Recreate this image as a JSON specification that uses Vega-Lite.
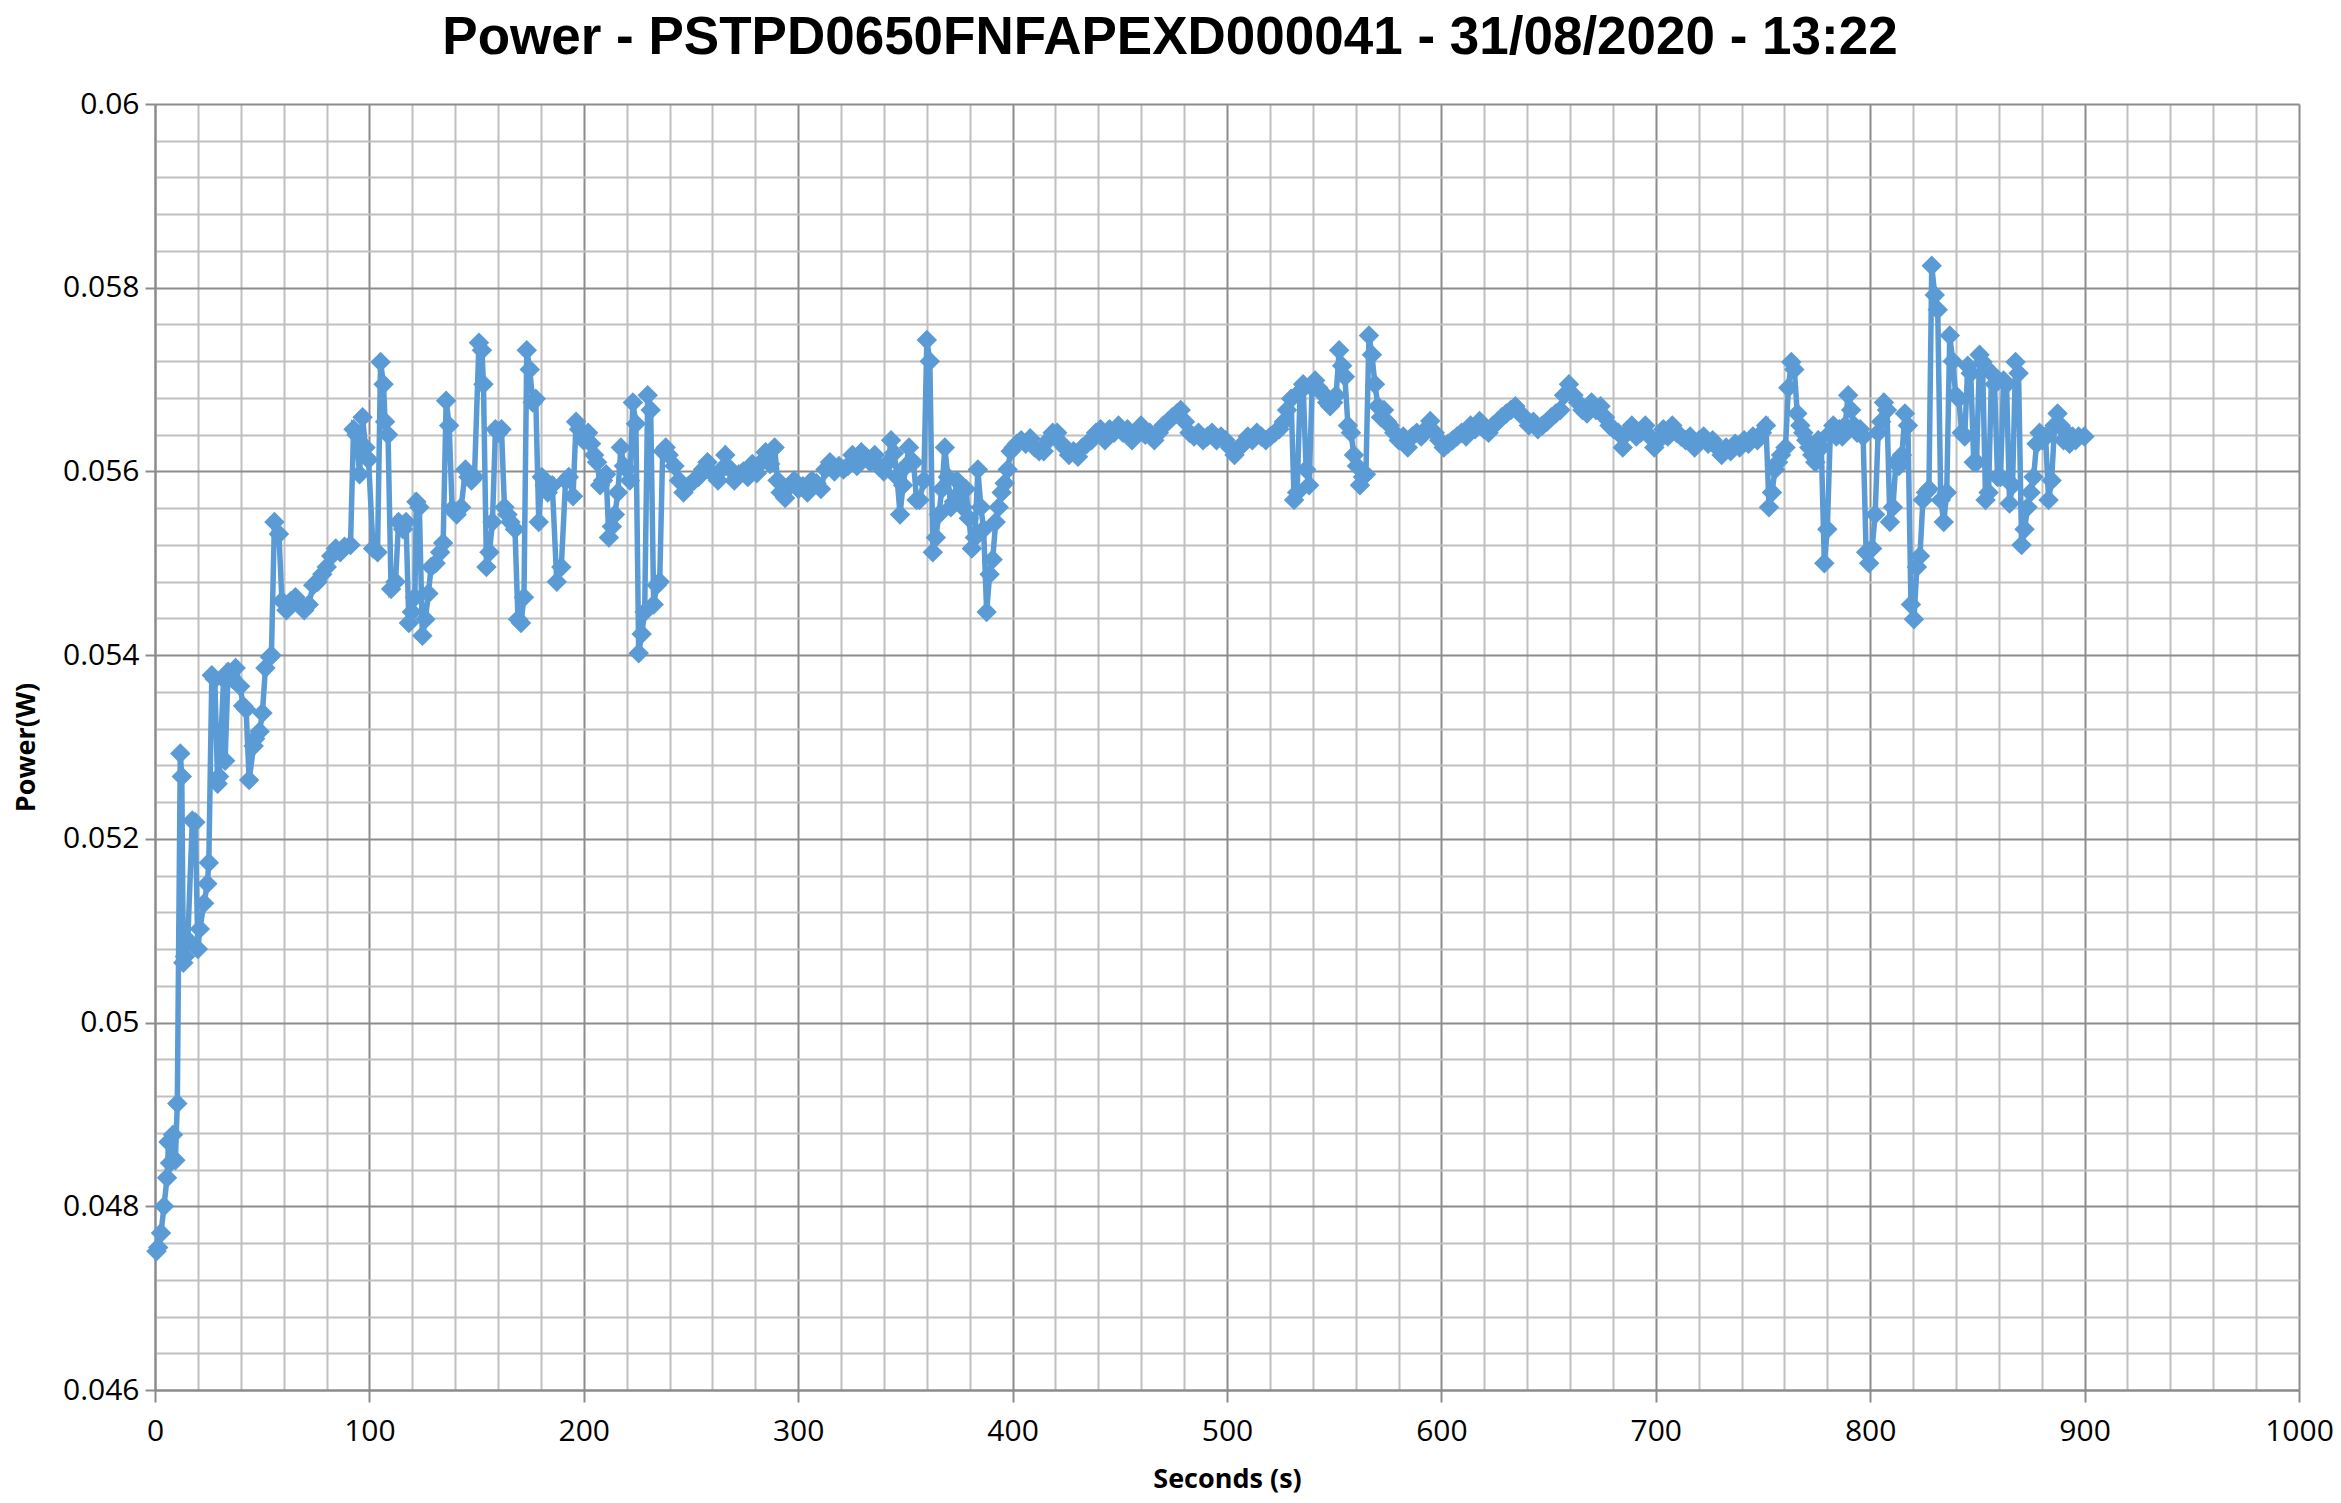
{
  "$schema": "https://vega.github.io/schema/vega-lite/v6.json",
  "width": 2144,
  "height": 1286,
  "autosize": {"type": "none"},
  "padding": {"left": 155, "top": 104, "right": 42, "bottom": 113},
  "background": "white",
  "title": {
    "text": "Power - PSTPD0650FNFAPEXD000041 - 31/08/2020 - 13:22",
    "font": "Liberation Sans",
    "fontSize": 53,
    "fontWeight": "bold",
    "color": "#000000",
    "anchor": "middle",
    "dx": -57,
    "offset": 24
  },
  "config": {
    "view": {"stroke": null},
    "axis": {
      "labelFont": "Open Sans",
      "titleFont": "Open Sans",
      "labelColor": "#000000",
      "titleColor": "#000000"
    }
  },
  "data": {
    "values": [
      {"s":0.7,"p":0.04751},{"s":1.5,"p":0.04755},{"s":2.8,"p":0.04771},{"s":4.2,"p":0.048},{"s":5.6,"p":0.04831},{"s":6.3,"p":0.0487},{"s":7.0,"p":0.04847},{"s":8.4,"p":0.04878},{"s":9.5,"p":0.0485},{"s":10.4,"p":0.04912},
      {"s":11.8,"p":0.05293},{"s":12.5,"p":0.05268},{"s":13.2,"p":0.05065},{"s":14.0,"p":0.05072},{"s":15.3,"p":0.0509},{"s":17.4,"p":0.0522},{"s":18.8,"p":0.05218},{"s":20.0,"p":0.0508},{"s":20.9,"p":0.05102},{"s":22.9,"p":0.0513},
      {"s":24.4,"p":0.05151},{"s":25.1,"p":0.05174},{"s":26.5,"p":0.05378},{"s":27.9,"p":0.05374},{"s":29.2,"p":0.0526},{"s":29.9,"p":0.05268},{"s":32.0,"p":0.05374},{"s":32.7,"p":0.05285},{"s":34.1,"p":0.05382},{"s":36.2,"p":0.05374},
      {"s":37.6,"p":0.05386},{"s":39.7,"p":0.05366},{"s":41.1,"p":0.05345},{"s":42.5,"p":0.05341},{"s":43.9,"p":0.05264},{"s":46.0,"p":0.05301},{"s":46.7,"p":0.05309},{"s":48.8,"p":0.05317},{"s":50.1,"p":0.05337},{"s":51.5,"p":0.05386},
      {"s":53.6,"p":0.05398},{"s":54.3,"p":0.054},{"s":55.7,"p":0.05545},{"s":57.8,"p":0.05532},{"s":59.2,"p":0.05459},{"s":61.3,"p":0.05449},{"s":63.4,"p":0.05459},{"s":65.5,"p":0.05463},{"s":67.5,"p":0.05455},{"s":69.6,"p":0.05449},
      {"s":71.7,"p":0.05455},{"s":73.8,"p":0.05476},{"s":75.9,"p":0.0548},{"s":78.0,"p":0.05488},{"s":80.1,"p":0.05496},{"s":82.2,"p":0.05508},{"s":84.3,"p":0.05516},{"s":86.4,"p":0.05512},{"s":88.4,"p":0.05518},{"s":91.2,"p":0.0552},
      {"s":92.6,"p":0.05646},{"s":94.0,"p":0.0564},{"s":95.4,"p":0.05597},{"s":96.8,"p":0.05659},{"s":98.2,"p":0.05626},{"s":99.6,"p":0.05613},{"s":101.7,"p":0.05516},{"s":103.8,"p":0.05512},{"s":105.2,"p":0.05719},{"s":106.6,"p":0.05695},
      {"s":107.3,"p":0.05654},{"s":108.7,"p":0.0564},{"s":110.1,"p":0.05472},{"s":112.2,"p":0.0548},{"s":113.6,"p":0.05545},{"s":115.7,"p":0.05537},{"s":117.1,"p":0.05545},{"s":118.4,"p":0.05435},{"s":119.8,"p":0.05447},{"s":121.2,"p":0.05463},
      {"s":121.9,"p":0.05567},{"s":123.3,"p":0.05561},{"s":124.7,"p":0.05421},{"s":126.1,"p":0.05439},{"s":127.5,"p":0.05467},{"s":128.8,"p":0.05496},{"s":130.9,"p":0.055},{"s":133.0,"p":0.05512},{"s":134.4,"p":0.05522},{"s":135.8,"p":0.05677},
      {"s":137.2,"p":0.0565},{"s":138.6,"p":0.05559},{"s":140.7,"p":0.05553},{"s":142.8,"p":0.05561},{"s":144.8,"p":0.05602},{"s":146.2,"p":0.05594},{"s":147.6,"p":0.0559},{"s":149.0,"p":0.05594},{"s":151.1,"p":0.0574},{"s":152.5,"p":0.05732},
      {"s":153.2,"p":0.05695},{"s":154.6,"p":0.05496},{"s":156.0,"p":0.05512},{"s":157.4,"p":0.05545},{"s":158.8,"p":0.05646},{"s":160.2,"p":0.05642},{"s":161.6,"p":0.05646},{"s":163.0,"p":0.05561},{"s":164.4,"p":0.05553},{"s":165.8,"p":0.05545},
      {"s":167.9,"p":0.05537},{"s":169.3,"p":0.05439},{"s":170.7,"p":0.05435},{"s":172.1,"p":0.05463},{"s":173.4,"p":0.05732},{"s":174.8,"p":0.05711},{"s":176.2,"p":0.05675},{"s":177.6,"p":0.05679},{"s":179.0,"p":0.05545},{"s":180.4,"p":0.05594},
      {"s":181.8,"p":0.05585},{"s":183.2,"p":0.05577},{"s":185.3,"p":0.05585},{"s":187.4,"p":0.0548},{"s":189.5,"p":0.05496},{"s":191.5,"p":0.0559},{"s":193.0,"p":0.05594},{"s":195.0,"p":0.05573},{"s":196.4,"p":0.05654},{"s":197.8,"p":0.05646},
      {"s":199.9,"p":0.05634},{"s":202.0,"p":0.05642},{"s":203.4,"p":0.0563},{"s":204.8,"p":0.05618},{"s":206.2,"p":0.0561},{"s":207.6,"p":0.05585},{"s":209.0,"p":0.0559},{"s":210.4,"p":0.05597},{"s":211.7,"p":0.05528},{"s":213.1,"p":0.0554},
      {"s":214.5,"p":0.05553},{"s":215.9,"p":0.05577},{"s":217.3,"p":0.05626},{"s":218.7,"p":0.05606},{"s":220.1,"p":0.05602},{"s":221.5,"p":0.0559},{"s":222.9,"p":0.05675},{"s":224.3,"p":0.05652},{"s":225.6,"p":0.05402},{"s":227.0,"p":0.05423},
      {"s":228.4,"p":0.05447},{"s":229.8,"p":0.05683},{"s":231.2,"p":0.05667},{"s":232.6,"p":0.05455},{"s":234.0,"p":0.05476},{"s":235.4,"p":0.0548},{"s":236.8,"p":0.05622},{"s":238.2,"p":0.05626},{"s":239.6,"p":0.05618},{"s":242.3,"p":0.05606},
      {"s":244.4,"p":0.0559},{"s":246.5,"p":0.05577},{"s":248.6,"p":0.05584},{"s":251.4,"p":0.0559},{"s":253.5,"p":0.05594},{"s":255.6,"p":0.05602},{"s":257.7,"p":0.0561},{"s":259.8,"p":0.05598},{"s":262.6,"p":0.0559},{"s":264.6,"p":0.05603},
      {"s":266.0,"p":0.05618},{"s":268.1,"p":0.05603},{"s":270.2,"p":0.0559},{"s":272.3,"p":0.05597},{"s":274.4,"p":0.056},{"s":276.5,"p":0.05594},{"s":278.6,"p":0.05608},{"s":280.7,"p":0.05598},{"s":282.8,"p":0.0561},{"s":284.8,"p":0.05621},
      {"s":286.9,"p":0.05608},{"s":289.0,"p":0.05626},{"s":290.4,"p":0.0559},{"s":291.8,"p":0.05577},{"s":293.9,"p":0.05571},{"s":296.0,"p":0.05584},{"s":298.1,"p":0.0559},{"s":300.1,"p":0.05581},{"s":302.2,"p":0.05584},{"s":304.3,"p":0.05577},
      {"s":306.4,"p":0.0559},{"s":308.5,"p":0.05587},{"s":310.6,"p":0.05581},{"s":312.7,"p":0.05602},{"s":314.8,"p":0.0561},{"s":316.9,"p":0.056},{"s":319.0,"p":0.05606},{"s":321.1,"p":0.05602},{"s":323.2,"p":0.05606},{"s":325.3,"p":0.05618},
      {"s":327.4,"p":0.05606},{"s":329.4,"p":0.05621},{"s":331.5,"p":0.05616},{"s":333.6,"p":0.0561},{"s":335.7,"p":0.05618},{"s":337.8,"p":0.05605},{"s":339.9,"p":0.056},{"s":342.0,"p":0.0561},{"s":343.3,"p":0.05634},{"s":344.7,"p":0.0562},
      {"s":346.1,"p":0.05594},{"s":347.5,"p":0.05553},{"s":348.9,"p":0.05585},{"s":350.3,"p":0.05606},{"s":351.7,"p":0.05626},{"s":353.8,"p":0.0561},{"s":355.2,"p":0.05569},{"s":356.6,"p":0.05569},{"s":358.6,"p":0.0559},{"s":360.0,"p":0.05743},
      {"s":361.4,"p":0.0572},{"s":362.8,"p":0.05512},{"s":364.2,"p":0.05528},{"s":365.6,"p":0.05553},{"s":367.0,"p":0.05581},{"s":368.4,"p":0.05626},{"s":369.8,"p":0.05594},{"s":371.2,"p":0.05561},{"s":372.6,"p":0.05567},{"s":374.0,"p":0.0559},
      {"s":375.4,"p":0.05577},{"s":376.8,"p":0.05561},{"s":378.2,"p":0.05581},{"s":379.6,"p":0.05549},{"s":381.0,"p":0.05516},{"s":382.4,"p":0.05528},{"s":383.8,"p":0.05602},{"s":385.2,"p":0.05561},{"s":386.5,"p":0.05537},{"s":387.9,"p":0.05447},
      {"s":389.3,"p":0.05488},{"s":390.7,"p":0.05504},{"s":392.1,"p":0.05545},{"s":393.5,"p":0.05561},{"s":394.9,"p":0.05577},{"s":396.3,"p":0.05587},{"s":397.7,"p":0.05602},{"s":399.1,"p":0.05622},{"s":400.5,"p":0.05626},{"s":402.0,"p":0.0563},
      {"s":404.0,"p":0.05634},{"s":406.1,"p":0.0563},{"s":408.2,"p":0.05636},{"s":410.3,"p":0.05626},{"s":412.4,"p":0.05622},{"s":414.5,"p":0.05622},{"s":416.6,"p":0.05634},{"s":418.7,"p":0.05642},{"s":420.8,"p":0.05642},{"s":422.9,"p":0.0563},
      {"s":424.3,"p":0.05626},{"s":426.3,"p":0.05618},{"s":428.4,"p":0.05622},{"s":430.5,"p":0.05616},{"s":432.6,"p":0.05626},{"s":434.7,"p":0.0563},{"s":436.8,"p":0.05634},{"s":438.9,"p":0.05642},{"s":441.0,"p":0.05646},{"s":443.1,"p":0.05634},
      {"s":445.2,"p":0.05646},{"s":447.3,"p":0.05642},{"s":449.4,"p":0.0565},{"s":451.5,"p":0.05642},{"s":453.6,"p":0.05646},{"s":455.7,"p":0.05634},{"s":457.8,"p":0.05642},{"s":459.9,"p":0.0565},{"s":461.9,"p":0.0564},{"s":464.0,"p":0.05642},
      {"s":466.1,"p":0.05634},{"s":468.2,"p":0.05642},{"s":470.3,"p":0.0565},{"s":472.4,"p":0.05654},{"s":474.5,"p":0.05659},{"s":476.6,"p":0.05663},{"s":478.4,"p":0.05667},{"s":480.4,"p":0.05654},{"s":482.5,"p":0.05642},{"s":484.6,"p":0.05638},
      {"s":486.7,"p":0.05642},{"s":488.8,"p":0.05634},{"s":490.9,"p":0.05638},{"s":493.0,"p":0.05642},{"s":495.1,"p":0.05634},{"s":497.2,"p":0.05638},{"s":499.3,"p":0.05634},{"s":501.4,"p":0.05626},{"s":503.5,"p":0.05618},{"s":505.6,"p":0.05626},
      {"s":507.7,"p":0.0563},{"s":509.7,"p":0.05638},{"s":511.8,"p":0.05634},{"s":513.9,"p":0.05642},{"s":516.0,"p":0.05638},{"s":518.1,"p":0.05634},{"s":520.2,"p":0.05638},{"s":522.3,"p":0.05642},{"s":524.4,"p":0.05646},{"s":526.5,"p":0.05654},
      {"s":528.0,"p":0.05667},{"s":529.9,"p":0.05679},{"s":531.3,"p":0.05569},{"s":532.7,"p":0.05577},{"s":534.1,"p":0.05687},{"s":535.5,"p":0.05695},{"s":536.9,"p":0.05602},{"s":538.3,"p":0.05585},{"s":539.7,"p":0.05691},{"s":541.1,"p":0.05699},
      {"s":542.5,"p":0.05691},{"s":543.9,"p":0.05687},{"s":545.3,"p":0.05683},{"s":546.7,"p":0.05675},{"s":548.1,"p":0.05671},{"s":549.5,"p":0.05675},{"s":550.9,"p":0.05683},{"s":552.3,"p":0.05732},{"s":553.7,"p":0.05715},{"s":555.0,"p":0.05703},
      {"s":556.4,"p":0.0565},{"s":557.8,"p":0.05642},{"s":559.2,"p":0.05618},{"s":560.6,"p":0.05606},{"s":562.0,"p":0.05585},{"s":563.4,"p":0.05594},{"s":564.8,"p":0.05597},{"s":566.2,"p":0.05748},{"s":567.6,"p":0.05727},{"s":569.0,"p":0.05695},
      {"s":570.4,"p":0.05671},{"s":571.8,"p":0.05659},{"s":573.2,"p":0.05667},{"s":574.6,"p":0.05654},{"s":575.9,"p":0.0565},{"s":578.0,"p":0.05642},{"s":580.1,"p":0.05634},{"s":582.2,"p":0.05638},{"s":584.3,"p":0.05626},{"s":586.4,"p":0.05638},
      {"s":588.5,"p":0.05642},{"s":590.6,"p":0.05638},{"s":592.7,"p":0.05646},{"s":594.8,"p":0.05655},{"s":596.9,"p":0.05642},{"s":599.0,"p":0.05634},{"s":601.1,"p":0.05626},{"s":603.1,"p":0.0563},{"s":605.2,"p":0.05634},{"s":607.3,"p":0.05638},
      {"s":609.4,"p":0.05642},{"s":611.5,"p":0.05638},{"s":613.6,"p":0.0565},{"s":615.7,"p":0.05646},{"s":617.8,"p":0.05655},{"s":619.9,"p":0.05646},{"s":622.0,"p":0.05642},{"s":624.1,"p":0.0565},{"s":626.2,"p":0.05654},{"s":628.2,"p":0.05659},
      {"s":630.3,"p":0.05663},{"s":632.4,"p":0.05667},{"s":634.5,"p":0.05671},{"s":636.6,"p":0.05663},{"s":638.7,"p":0.05659},{"s":640.8,"p":0.0565},{"s":642.9,"p":0.05654},{"s":645.0,"p":0.05646},{"s":647.1,"p":0.0565},{"s":649.2,"p":0.05654},
      {"s":651.3,"p":0.05659},{"s":653.4,"p":0.05663},{"s":655.5,"p":0.05667},{"s":657.2,"p":0.05683},{"s":659.5,"p":0.05695},{"s":661.6,"p":0.05683},{"s":663.7,"p":0.05675},{"s":665.8,"p":0.05667},{"s":667.9,"p":0.05663},{"s":670.0,"p":0.05675},
      {"s":672.1,"p":0.05667},{"s":674.2,"p":0.05671},{"s":676.3,"p":0.05659},{"s":678.4,"p":0.0565},{"s":680.4,"p":0.05646},{"s":682.5,"p":0.05642},{"s":684.6,"p":0.05626},{"s":686.7,"p":0.05642},{"s":688.8,"p":0.0565},{"s":690.9,"p":0.05638},
      {"s":693.0,"p":0.05642},{"s":695.1,"p":0.0565},{"s":697.2,"p":0.05638},{"s":699.3,"p":0.05626},{"s":701.4,"p":0.05634},{"s":703.5,"p":0.05646},{"s":705.6,"p":0.05638},{"s":707.7,"p":0.0565},{"s":709.7,"p":0.05642},{"s":711.8,"p":0.05638},
      {"s":713.9,"p":0.05634},{"s":716.0,"p":0.05638},{"s":718.1,"p":0.05626},{"s":720.2,"p":0.05634},{"s":722.3,"p":0.05638},{"s":724.4,"p":0.0563},{"s":726.5,"p":0.05634},{"s":728.6,"p":0.05626},{"s":730.7,"p":0.05618},{"s":732.8,"p":0.05626},
      {"s":734.9,"p":0.05622},{"s":737.0,"p":0.0563},{"s":739.1,"p":0.05626},{"s":741.2,"p":0.05634},{"s":743.2,"p":0.0563},{"s":745.3,"p":0.05638},{"s":747.4,"p":0.05634},{"s":749.5,"p":0.05642},{"s":751.4,"p":0.0565},{"s":752.8,"p":0.05561},
      {"s":754.2,"p":0.05577},{"s":755.6,"p":0.05602},{"s":757.0,"p":0.0561},{"s":758.4,"p":0.05618},{"s":760.5,"p":0.05626},{"s":761.8,"p":0.05691},{"s":763.2,"p":0.05719},{"s":764.6,"p":0.05711},{"s":766.0,"p":0.05663},{"s":767.4,"p":0.0565},
      {"s":768.8,"p":0.05642},{"s":770.2,"p":0.05634},{"s":771.6,"p":0.05626},{"s":773.0,"p":0.05618},{"s":774.4,"p":0.0561},{"s":775.8,"p":0.05634},{"s":777.2,"p":0.05626},{"s":778.6,"p":0.055},{"s":780.0,"p":0.05537},{"s":781.4,"p":0.05642},
      {"s":782.8,"p":0.0565},{"s":784.2,"p":0.05638},{"s":785.6,"p":0.05646},{"s":787.0,"p":0.05638},{"s":788.3,"p":0.0565},{"s":789.7,"p":0.05683},{"s":791.1,"p":0.05667},{"s":792.5,"p":0.0565},{"s":793.9,"p":0.05642},{"s":795.3,"p":0.05646},
      {"s":796.7,"p":0.05638},{"s":798.1,"p":0.05512},{"s":799.5,"p":0.055},{"s":800.9,"p":0.05516},{"s":802.3,"p":0.05553},{"s":803.7,"p":0.05642},{"s":805.1,"p":0.05654},{"s":806.4,"p":0.05675},{"s":807.8,"p":0.05667},{"s":809.2,"p":0.05545},
      {"s":810.6,"p":0.05561},{"s":812.0,"p":0.0561},{"s":813.4,"p":0.05606},{"s":814.8,"p":0.05618},{"s":816.2,"p":0.05663},{"s":817.6,"p":0.0565},{"s":819.0,"p":0.05455},{"s":820.4,"p":0.05439},{"s":821.8,"p":0.05496},{"s":823.2,"p":0.05508},
      {"s":824.6,"p":0.05569},{"s":826.0,"p":0.05577},{"s":827.4,"p":0.05581},{"s":828.7,"p":0.05824},{"s":830.1,"p":0.05792},{"s":831.5,"p":0.05776},{"s":832.9,"p":0.05569},{"s":834.3,"p":0.05545},{"s":835.7,"p":0.05577},{"s":837.1,"p":0.05748},
      {"s":838.5,"p":0.0572},{"s":839.9,"p":0.05683},{"s":841.3,"p":0.05679},{"s":842.7,"p":0.05642},{"s":844.1,"p":0.05638},{"s":845.5,"p":0.05715},{"s":846.9,"p":0.05707},{"s":848.3,"p":0.0561},{"s":849.6,"p":0.0561},{"s":851.0,"p":0.05727},
      {"s":852.4,"p":0.05719},{"s":853.8,"p":0.05569},{"s":855.2,"p":0.05577},{"s":856.6,"p":0.05707},{"s":858.0,"p":0.05695},{"s":859.4,"p":0.05594},{"s":860.8,"p":0.05594},{"s":862.2,"p":0.05699},{"s":863.6,"p":0.05695},{"s":865.0,"p":0.05565},
      {"s":866.4,"p":0.05585},{"s":867.8,"p":0.05719},{"s":869.2,"p":0.05707},{"s":870.6,"p":0.0552},{"s":872.0,"p":0.05537},{"s":873.4,"p":0.05561},{"s":874.8,"p":0.05577},{"s":876.2,"p":0.05594},{"s":877.6,"p":0.0563},{"s":879.0,"p":0.05642},
      {"s":880.4,"p":0.05634},{"s":881.8,"p":0.05638},{"s":883.2,"p":0.05569},{"s":884.6,"p":0.0559},{"s":886.0,"p":0.0565},{"s":887.4,"p":0.05663},{"s":888.8,"p":0.0565},{"s":890.2,"p":0.05634},{"s":891.6,"p":0.05642},{"s":893.0,"p":0.0563},
      {"s":894.4,"p":0.05638},{"s":895.8,"p":0.05634},{"s":897.2,"p":0.05638},{"s":899.9,"p":0.05638}
    ]
  },
  "mark": {
    "type": "line",
    "color": "#5B9BD5",
    "strokeWidth": 5.5,
    "point": {"shape": "diamond", "size": 420, "filled": true, "color": "#5B9BD5", "opacity": 1}
  },
  "encoding": {
    "x": {
      "field": "s",
      "type": "quantitative",
      "scale": {"domain": [0, 1000], "nice": false, "zero": false},
      "axis": {
        "title": "Seconds (s)",
        "titleFontSize": 27,
        "titleFontWeight": "bold",
        "titlePadding": 20,
        "values": [0,20,40,60,80,100,120,140,160,180,200,220,240,260,280,300,320,340,360,380,400,420,440,460,480,500,520,540,560,580,600,620,640,660,680,700,720,740,760,780,800,820,840,860,880,900,920,940,960,980,1000],
        "format": "d",
        "labelExpr": "datum.value % 100 === 0 ? datum.label : ''",
        "labelFontSize": 30,
        "labelPadding": 14,
        "labelFlush": false,
        "grid": true,
        "gridWidth": 2,
        "gridColor": {"condition": {"test": "datum.value % 100 === 0", "value": "#8C8C8C"}, "value": "#C0C0C0"},
        "tickSize": 12,
        "tickWidth": 2,
        "tickColor": "#8C8C8C",
        "tickOpacity": {"condition": {"test": "datum.value % 100 === 0", "value": 1}, "value": 0},
        "domainColor": "#8C8C8C",
        "domainWidth": 2
      }
    },
    "y": {
      "field": "p",
      "type": "quantitative",
      "scale": {"domain": [0.046, 0.06], "nice": false, "zero": false},
      "axis": {
        "title": "Power(W)",
        "titleFontSize": 27,
        "titleFontWeight": "bold",
        "titlePadding": 22,
        "values": [0.046,0.0464,0.0468,0.0472,0.0476,0.048,0.0484,0.0488,0.0492,0.0496,0.05,0.0504,0.0508,0.0512,0.0516,0.052,0.0524,0.0528,0.0532,0.0536,0.054,0.0544,0.0548,0.0552,0.0556,0.056,0.0564,0.0568,0.0572,0.0576,0.058,0.0584,0.0588,0.0592,0.0596,0.06],
        "format": ".3~f",
        "labelExpr": "abs(datum.value*500 - round(datum.value*500)) < 0.01 ? datum.label : ''",
        "labelFontSize": 30,
        "labelPadding": 6,
        "grid": true,
        "gridWidth": 2,
        "gridColor": {"condition": {"test": "abs(datum.value*500 - round(datum.value*500)) < 0.01", "value": "#8C8C8C"}, "value": "#C0C0C0"},
        "tickSize": 10,
        "tickWidth": 2,
        "tickColor": "#8C8C8C",
        "tickOpacity": {"condition": {"test": "abs(datum.value*500 - round(datum.value*500)) < 0.01", "value": 1}, "value": 0},
        "domainColor": "#8C8C8C",
        "domainWidth": 2
      }
    }
  }
}
